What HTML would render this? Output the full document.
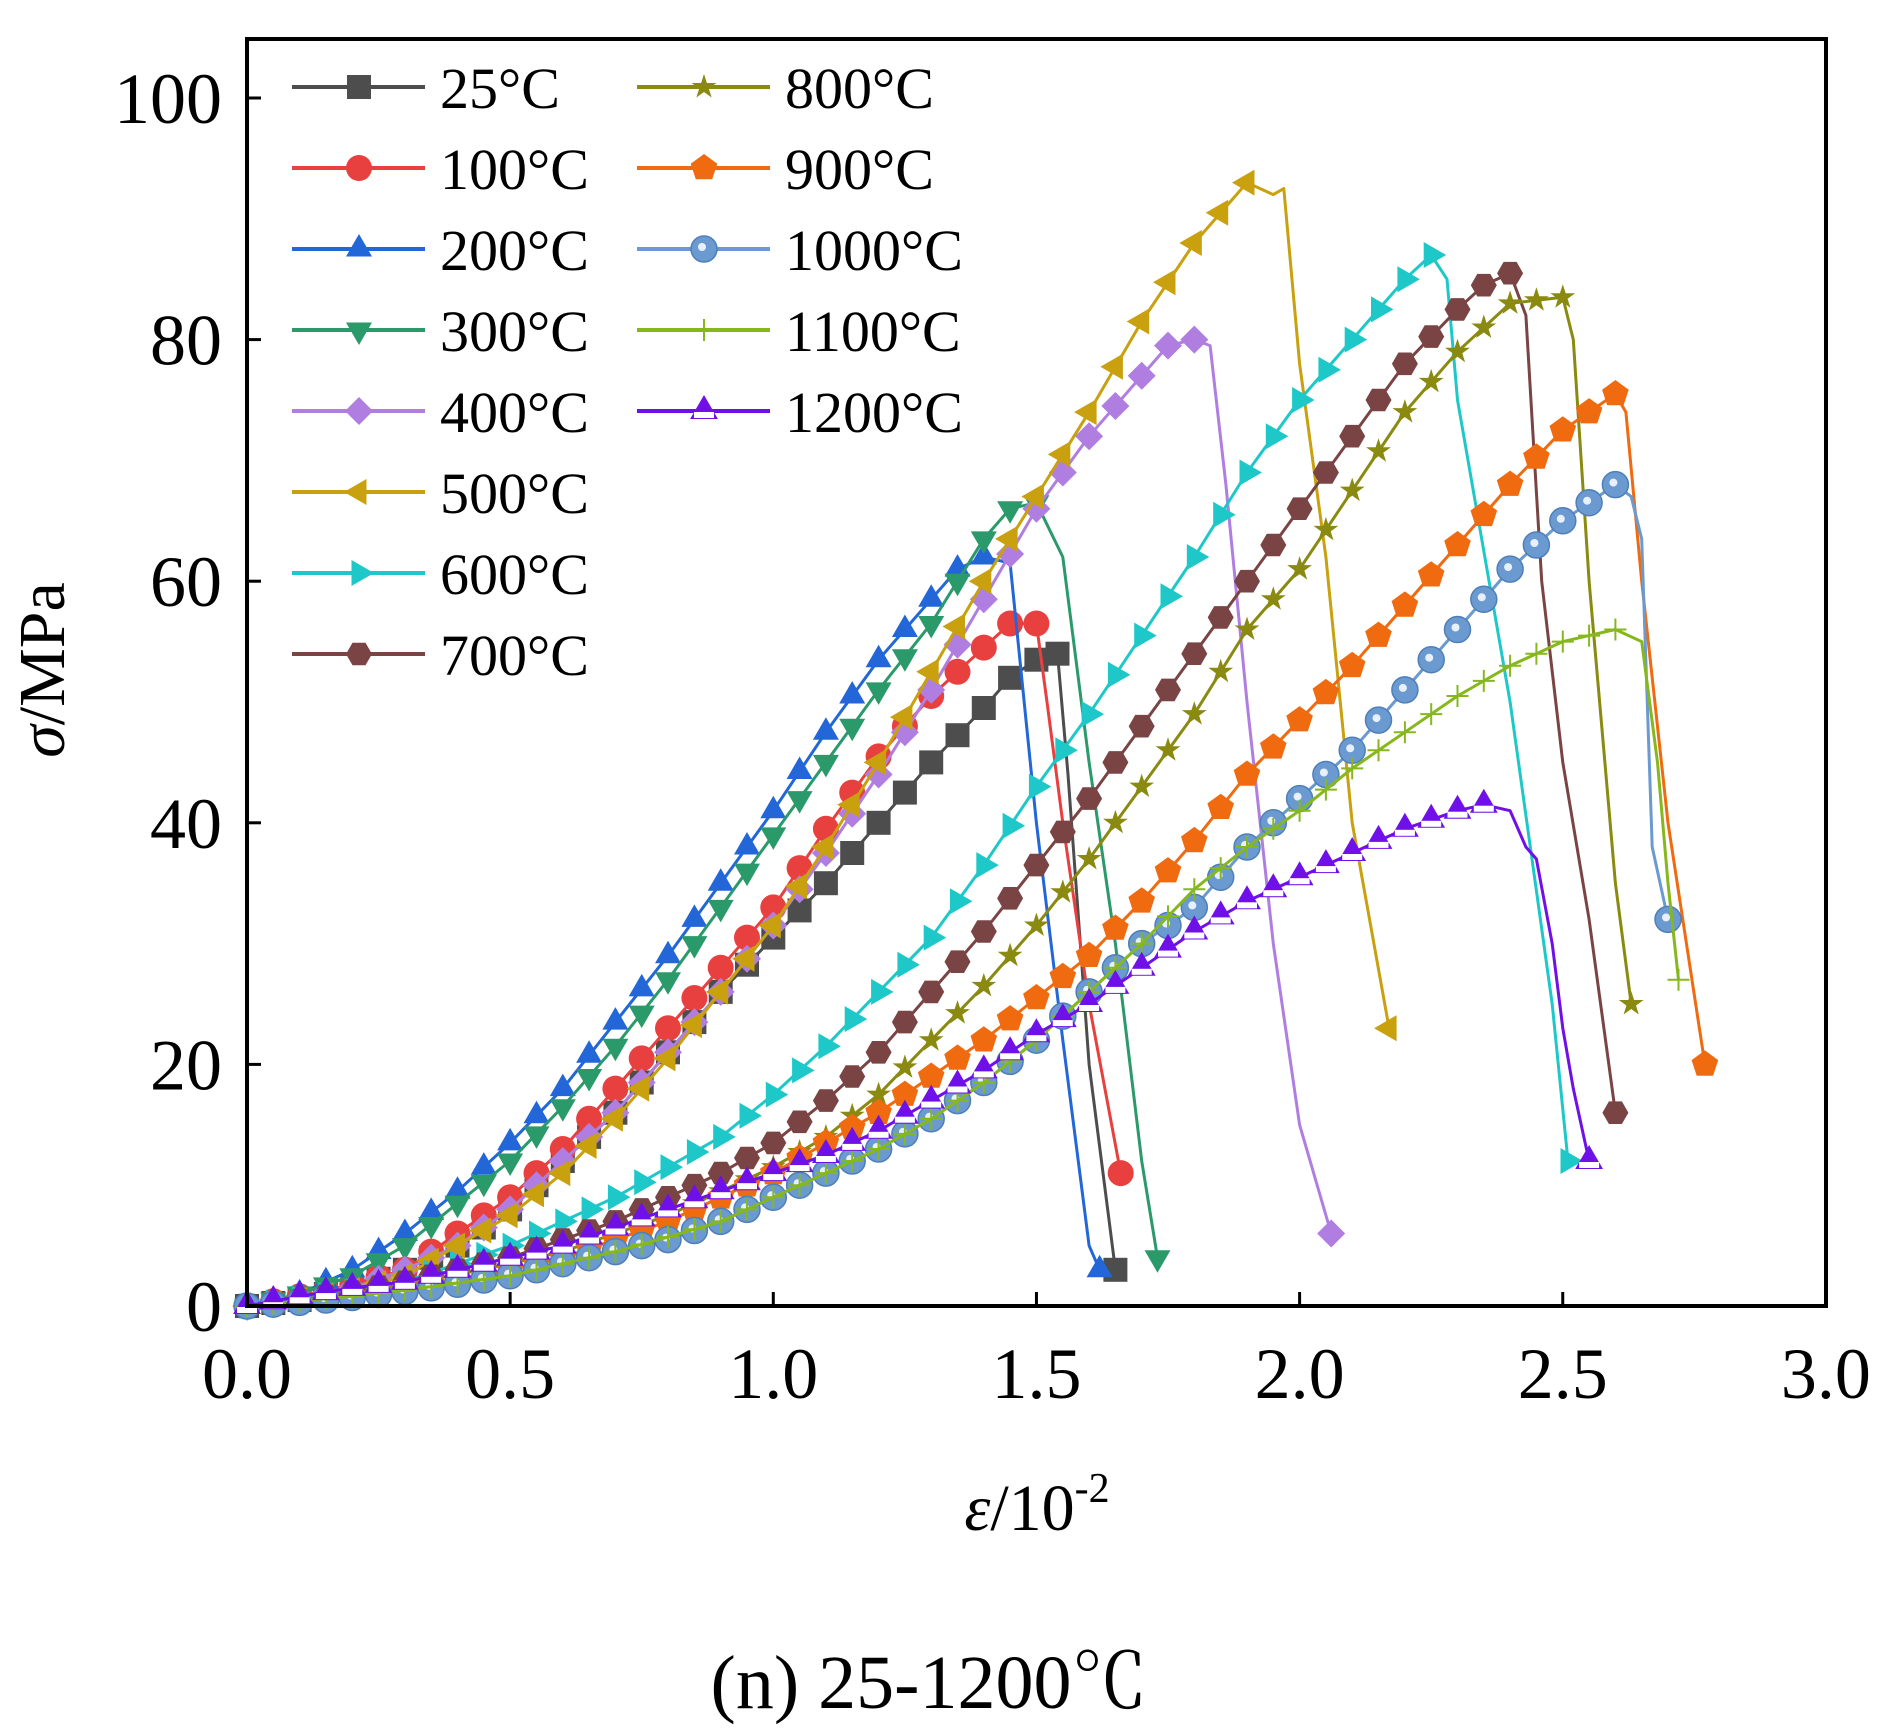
<!DOCTYPE html>
<html><head><meta charset="utf-8">
<style>
html,body{margin:0;padding:0;background:#fff;}
svg{display:block;font-family:"Liberation Serif",serif;}
</style></head>
<body>
<svg id="chart" width="1888" height="1735" viewBox="0 0 1888 1735" xmlns="http://www.w3.org/2000/svg">
<rect x="0" y="0" width="1888" height="1735" fill="#fff"/>
<g id="series"></g>
<rect x="247" y="39" width="1579" height="1267" fill="none" stroke="#000" stroke-width="4"/>
<g id="axes"></g>
<g id="legend"></g>
<text x="64" y="670" font-size="66" text-anchor="middle" transform="rotate(-90 64 670)"><tspan font-style="italic">σ</tspan>/MPa</text>
<text x="1037" y="1530" font-size="66" text-anchor="middle"><tspan font-style="italic">ε</tspan>/10<tspan font-size="42" dy="-28">-2</tspan></text>
<text x="929" y="1708" font-size="76" text-anchor="middle" font-family="Liberation Serif, Noto Serif CJK SC, serif">(n) 25-1200℃</text>
</svg>
<script>
const xTicks = [0, 0.5, 1.0, 1.5, 2.0, 2.5, 3.0];
const xTickLabels = ["0.0","0.5","1.0","1.5","2.0","2.5","3.0"];
const yTicks = [0, 20, 40, 60, 80, 100];
const yTickLabels = ["0","20","40","60","80","100"];
const seriesNames = ["25°C","100°C","200°C","300°C","400°C","500°C","600°C","700°C","800°C","900°C","1000°C","1100°C","1200°C"];
const s25x = [0,0.1,0.2,0.3,0.4,0.5,0.6,0.7,0.8,0.9,1.0,1.1,1.2,1.3,1.4,1.45,1.5,1.54,1.56,1.6,1.65];
const s25y = [0,0.5,1.5,3,5,8,12,16,21,26,30.5,35,40,45,49.5,52,53.5,54,44,20,3];
const s100x = [0,0.1,0.2,0.3,0.4,0.5,0.6,0.7,0.8,0.9,1.0,1.1,1.2,1.3,1.4,1.45,1.5,1.52,1.55,1.6,1.66];
const s100y = [0,0.8,1.8,3,6,9,13,18,23,28,33,39.5,45.5,50.5,54.5,56.5,56.5,50,40,25,11];
const s200x = [0,0.1,0.2,0.3,0.4,0.5,0.6,0.7,0.8,0.9,1.0,1.1,1.2,1.3,1.35,1.4,1.45,1.5,1.55,1.6,1.62];
const s200y = [0,1,3,6,9.5,13.5,18,23.5,29,35,41,47.5,53.5,58.5,61,62,61.5,40,22,5,3];
const s300x = [0,0.1,0.2,0.3,0.4,0.5,0.6,0.7,0.8,0.9,1.0,1.1,1.2,1.3,1.4,1.45,1.5,1.55,1.6,1.65,1.7,1.73];
const s300y = [0,1,2.5,5,8.5,12,16.5,21.5,27,33,39,45,51,56.5,63.5,66,66.5,62,45,30,12,4];
const s400x = [0,0.1,0.2,0.3,0.4,0.5,0.6,0.7,0.8,0.9,1.0,1.1,1.2,1.3,1.4,1.5,1.6,1.7,1.75,1.8,1.83,1.86,1.9,1.95,2.0,2.06];
const s400y = [0,0.6,1.5,3,5,8,12,16,21,26,31.5,37.5,44,51,58.5,66,72,77,79.5,80,79.5,68,50,30,15,6];
const s500x = [0,0.1,0.2,0.3,0.4,0.5,0.6,0.7,0.8,0.9,1.0,1.1,1.2,1.3,1.4,1.5,1.6,1.7,1.8,1.9,1.95,1.97,2.0,2.05,2.1,2.17];
const s500y = [0,0.5,1.3,2.5,5,7.5,11,15.5,20.5,26,31.5,38,45,52.5,60,67,74,81.5,88,93,92,92.5,78,62,40,23];
const s600x = [0,0.1,0.2,0.3,0.4,0.5,0.6,0.7,0.8,0.9,1.0,1.1,1.2,1.3,1.4,1.5,1.6,1.7,1.8,1.9,2.0,2.1,2.2,2.25,2.28,2.3,2.4,2.48,2.51];
const s600y = [0,0.6,1.2,2,3.5,5,7,9,11.5,14,17.5,21.5,26,30.5,36.5,43,49,55.5,62,69,75,80,85,87,85,75,50,25,12];
const s700x = [0,0.1,0.2,0.3,0.4,0.5,0.6,0.7,0.8,0.9,1.0,1.1,1.2,1.3,1.4,1.5,1.6,1.7,1.8,1.9,2.0,2.1,2.2,2.3,2.35,2.4,2.43,2.46,2.5,2.55,2.6];
const s700y = [0,0.5,1.2,2,3,4,5.5,7,9,11,13.5,17,21,26,31,36.5,42,48,54,60,66,72,78,82.5,84.5,85.5,82,60,45,32,16];
const s800x = [0,0.1,0.2,0.3,0.4,0.5,0.6,0.7,0.8,0.9,1.0,1.1,1.2,1.3,1.4,1.5,1.6,1.7,1.8,1.9,2.0,2.1,2.2,2.3,2.4,2.5,2.52,2.55,2.6,2.63];
const s800y = [0,0.5,1,1.8,2.6,3.5,4.5,6,7.5,9.5,11.5,14,17.5,22,26.5,31.5,37,43,49,56,61,67.5,74,79,83,83.5,80,60,35,25];
const s900x = [0,0.1,0.2,0.3,0.4,0.5,0.6,0.7,0.8,0.9,1.0,1.1,1.2,1.3,1.4,1.5,1.6,1.7,1.8,1.9,2.0,2.1,2.2,2.3,2.4,2.5,2.6,2.62,2.65,2.7,2.77];
const s900y = [0,0.4,0.9,1.5,2.2,3,4,5.5,7,9,11,13.5,16,19,22,25.5,29,33.5,38.5,44,48.5,53,58,63,68,72.5,75.5,74,60,40,20];
const s1000x = [0,0.1,0.2,0.3,0.4,0.5,0.6,0.7,0.8,0.9,1.0,1.1,1.2,1.3,1.4,1.5,1.6,1.7,1.8,1.9,2.0,2.1,2.2,2.3,2.4,2.5,2.6,2.63,2.65,2.67,2.7];
const s1000y = [0,0.3,0.7,1.2,1.8,2.5,3.5,4.5,5.5,7,9,11,13,15.5,18.5,22,26,30,33,38,42,46,51,56,61,65,68,67,63.5,38,32];
const s1100x = [0,0.1,0.2,0.3,0.4,0.5,0.6,0.7,0.8,0.9,1.0,1.1,1.2,1.3,1.4,1.5,1.6,1.7,1.8,1.9,2.0,2.1,2.2,2.3,2.4,2.5,2.6,2.65,2.68,2.7,2.72];
const s1100y = [0,0.4,0.8,1.3,1.9,2.5,3.5,4.5,5.7,7,9,11,13,15.5,18.5,22,26,30,34.5,38,41,44.5,47.5,50.5,53,55,56,55,45,35,27];
const s1200x = [0,0.1,0.2,0.3,0.4,0.5,0.6,0.7,0.8,0.9,1.0,1.1,1.2,1.3,1.4,1.5,1.6,1.7,1.8,1.9,2.0,2.1,2.2,2.3,2.35,2.4,2.43,2.45,2.48,2.5,2.52,2.55];
const s1200y = [0,0.8,1.5,2,3,4,5,6.5,8,9.5,11,12.5,14.5,17,19.5,22.5,25,28,31,33.5,35.5,37.5,39.5,41,41.5,41,38,37,30,23,18,12];

const seriesX = [s25x,s100x,s200x,s300x,s400x,s500x,s600x,s700x,s800x,s900x,s1000x,s1100x,s1200x];
const seriesY = [s25y,s100y,s200y,s300y,s400y,s500y,s600y,s700y,s800y,s900y,s1000y,s1100y,s1200y];
const colors = ["#4d4d4d","#e8403f","#2266d8","#2a9a6a","#b07ee0","#c9a00e","#1ec8c8","#7b4444","#8a8a10","#f06a10","#6a9ad0","#86b81e","#7010e8"];
const shapes = ["square","circle","tri-up","tri-down","diamond","tri-left","tri-right","hexagon","star","pentagon","sphere","plus","tri-open"];

const NS = "http://www.w3.org/2000/svg";
const X0 = 247, XS = 526.3, Y0 = 1306, YS = 12.08;
function xs(v){ return X0 + v*XS; }
function ys(v){ return Y0 - v*YS; }
function mk(tag, attrs){ const e = document.createElementNS(NS, tag); for (const k in attrs) e.setAttribute(k, attrs[k]); return e; }
function poly(n, r, rot){ let p=[]; for(let i=0;i<n;i++){ const a=rot+i*2*Math.PI/n; p.push((r*Math.cos(a)).toFixed(1)+","+(r*Math.sin(a)).toFixed(1)); } return p.join(" "); }
function marker(shape, color, cx, cy){
  const g = mk("g", {transform:"translate("+cx.toFixed(1)+","+cy.toFixed(1)+")"});
  const r = 13;
  let e;
  if (shape==="square") e = mk("rect",{x:-r+1,y:-r+1,width:2*r-2,height:2*r-2,fill:color});
  else if (shape==="circle") e = mk("circle",{r:r,fill:color});
  else if (shape==="sphere"){ e = mk("circle",{r:r,fill:color,stroke:"#4f7fb8","stroke-width":1.5}); g.appendChild(e); e = mk("circle",{r:4,cx:-2,cy:-2,fill:"#e8f0ff"}); }
  else if (shape==="tri-up") e = mk("polygon",{points:poly(3,r+2,-Math.PI/2),fill:color});
  else if (shape==="tri-down") e = mk("polygon",{points:poly(3,r+2,Math.PI/2),fill:color});
  else if (shape==="tri-left") e = mk("polygon",{points:poly(3,r+2,Math.PI),fill:color});
  else if (shape==="tri-right") e = mk("polygon",{points:poly(3,r+2,0),fill:color});
  else if (shape==="diamond") e = mk("polygon",{points:poly(4,r+1,0),fill:color});
  else if (shape==="hexagon") e = mk("polygon",{points:poly(6,r,0),fill:color});
  else if (shape==="pentagon") e = mk("polygon",{points:poly(5,r+1,-Math.PI/2),fill:color});
  else if (shape==="star"){ let p=[]; for(let i=0;i<10;i++){ const a=-Math.PI/2+i*Math.PI/5, rr=i%2?5:r; p.push((rr*Math.cos(a)).toFixed(1)+","+(rr*Math.sin(a)).toFixed(1)); } e = mk("polygon",{points:p.join(" "),fill:color}); }
  else if (shape==="plus") e = mk("path",{d:"M-11 0H11M0 -11V11",stroke:color,"stroke-width":2,fill:"none"});
  else if (shape==="tri-open"){ e = mk("polygon",{points:poly(3,r+3,-Math.PI/2),fill:color}); g.appendChild(e); e = mk("rect",{x:-10,y:1,width:20,height:6,fill:"#fff"}); }
  g.appendChild(e);
  return g;
}

const axes = document.getElementById("axes");
xTicks.forEach((v,i)=>{
  const t = mk("line",{x1:xs(v),x2:xs(v),y1:Y0,y2:Y0-14,stroke:"#000","stroke-width":3});
  
  
  axes.appendChild(t);
  const l = mk("text",{x:xs(v),y:1398,"font-size":72,"text-anchor":"middle"});
  l.textContent = xTickLabels[i];
  
  
  axes.appendChild(l);
});
yTicks.forEach((v,i)=>{
  const t = mk("line",{x1:X0,x2:X0+14,y1:ys(v),y2:ys(v),stroke:"#000","stroke-width":3});
  
  
  axes.appendChild(t);
  const l = mk("text",{x:222,y:ys(v)+25,"font-size":72,"text-anchor":"end"});
  l.textContent = yTickLabels[i];
  
  
  axes.appendChild(l);
});

const sl = document.getElementById("series");
seriesX.forEach((xa,si)=>{
  const ya = seriesY[si];
  const g = mk("g",{});
  
  
  const pts = xa.map((x,i)=>xs(x).toFixed(1)+","+ys(ya[i]).toFixed(1)).join(" ");
  const pl = mk("polyline",{points:pts,fill:"none",stroke:colors[si],"stroke-width":3,"stroke-linejoin":"round"});
  
  
  g.appendChild(pl);
  // peak index: markers only on rising branch plus final point
  let pk = 0; ya.forEach((v,i)=>{ if(v>=ya[pk]) pk=i; });
  for(let i=0;i<xa.length;i++){
    if(i>pk && i<xa.length-1) continue;
    const m = marker(shapes[si],colors[si],xs(xa[i]),ys(ya[i]));
    
    
    g.appendChild(m);
    if(i<pk && xa[i+1]-xa[i]>=0.09){
      const m2 = marker(shapes[si],colors[si],xs((xa[i]+xa[i+1])/2),ys((ya[i]+ya[i+1])/2));
      
      
      g.appendChild(m2);
    }
  }
  sl.appendChild(g);
});

const lg = document.getElementById("legend");
seriesNames.forEach((n,i)=>{
  const col = i<8?0:1, row = i<8?i:i-8;
  const x1 = col? 637:292, y = 87 + row*81;
  const g = mk("g",{});
  
  
  g.appendChild(mk("line",{x1:x1,x2:x1+133,y1:y,y2:y,stroke:colors[i],"stroke-width":4}));
  g.appendChild(marker(shapes[i],colors[i],x1+67,y));
  const t = mk("text",{x:x1+148,y:y+21,"font-size":58});
  t.textContent = n;
  g.appendChild(t);
  lg.appendChild(g);
});
</script>
</body></html>
